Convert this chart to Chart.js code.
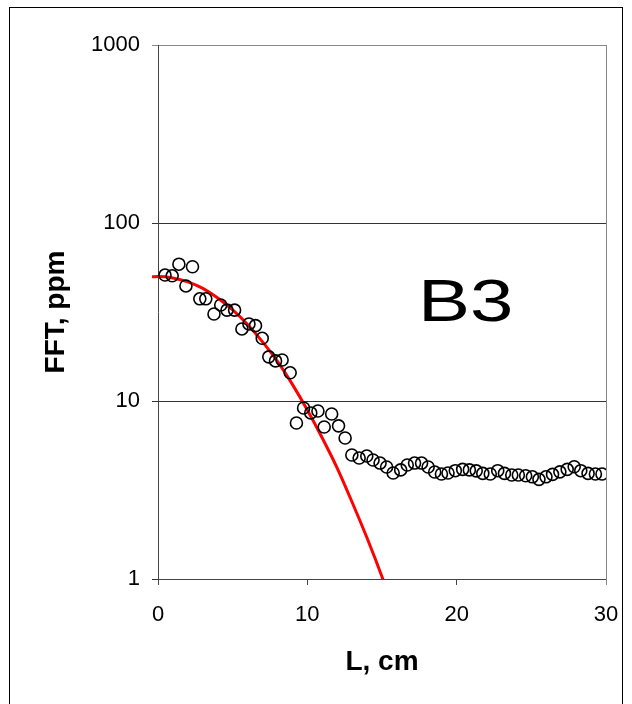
<!DOCTYPE html>
<html>
<head>
<meta charset="utf-8">
<script src="https://cdn.jsdelivr.net/npm/chart.js@4/dist/chart.umd.min.js"></script>
<style>
  body { margin: 0; background: #fff; overflow: hidden; }
  #frame { position: absolute; left: 9px; top: 7px; width: 612px; height: 720px; border: 1px solid #000; }
  #c { position: absolute; left: 0; top: 0; }
</style>
</head>
<body>
<div id="frame"></div>
<canvas id="c" width="632" height="704"></canvas>
<script>
// measured points, L in cm / FFT in ppm
var lenCm = [0.47, 0.95, 1.40, 1.87, 2.31, 2.80, 3.20, 3.75, 4.20, 4.62, 5.13, 5.62, 6.09, 6.53, 6.98, 7.42,
    7.87, 8.31, 8.85, 9.27, 9.75, 10.23, 10.71, 11.13, 11.63, 12.09, 12.53, 12.98, 13.47, 13.98, 14.40, 14.87,
    15.31, 15.75, 16.25, 16.69, 17.18, 17.65, 18.09, 18.53, 18.98, 19.42, 19.91, 20.40, 20.85, 21.31, 21.75,
    22.25, 22.75, 23.20, 23.69, 24.13, 24.62, 25.07, 25.51, 25.98, 26.42, 26.91, 27.40, 27.87, 28.31, 28.80,
    29.29, 29.73];
var fftPpm = [51, 50.5, 58.7, 44.3, 56.8, 37.5, 37.5, 30.8, 34.6, 32.4, 32.4, 25.4, 27.1, 26.5, 22.5, 17.7,
    16.8, 17.0, 14.4, 7.52, 9.14, 8.57, 8.79, 7.14, 8.45, 7.25, 6.2, 4.97, 4.78, 4.91, 4.66, 4.48,
    4.26, 3.94, 4.10, 4.37, 4.48, 4.48, 4.26, 3.99, 3.89, 3.94, 4.06, 4.13, 4.10, 4.05, 3.92,
    3.89, 4.06, 3.92, 3.84, 3.84, 3.80, 3.75, 3.63, 3.75, 3.87, 4.00, 4.13, 4.27, 4.06, 3.92,
    3.89, 3.89];

// red fit curve
var fitX = [-0.4, 0, 1, 2, 3, 4, 5, 6, 7, 8, 9, 10, 11, 12, 13, 14, 15, 16];
var fitY = [49.9, 50, 49.1, 46.7, 42.9, 37.9, 32.5, 26.9, 21.5, 16.7, 12.4, 8.9, 6.2, 4.2, 2.7, 1.7, 1.03, 0.6];

var yTicks = [1, 10, 100, 1000];
var xTicks = [0, 10, 20, 30];

function pairs(xs, ys) {
    return xs.map(function (x, i) { return {x: x, y: ys[i]}; });
}

// gray right frame of the plot + the "B3" label
var extras = {
    id: 'extras',
    afterDatasetsDraw: function (chart) {
        var ctx = chart.ctx, a = chart.chartArea;
        ctx.save();
        ctx.strokeStyle = '#888';
        ctx.lineWidth = 1;
        ctx.beginPath();
        ctx.moveTo(a.right + 0.5, a.top);
        ctx.lineTo(a.right + 0.5, a.bottom + 6);
        ctx.stroke();
        ctx.fillStyle = '#000';
        ctx.font = '60px Arial, "Liberation Sans"';
        ctx.textAlign = 'center';
        ctx.textBaseline = 'middle';
        ctx.translate(chart.scales.x.getPixelForValue(20.6), chart.scales.y.getPixelForValue(35));
        ctx.scale(1.3, 1);
        ctx.fillText('B3', 0, 0);
        ctx.restore();
    }
};

var ctx = document.getElementById('c').getContext('2d');
var fftChart = new Chart(ctx, {
    type: 'scatter',
    data: {
        datasets: [{
            data: pairs(lenCm, fftPpm),
            pointRadius: 6,
            pointBorderWidth: 1.6,
            borderColor: '#000',
            backgroundColor: 'rgba(0,0,0,0)',
            order: 1
        }, {
            data: pairs(fitX, fitY),
            showLine: true,
            pointRadius: 0,
            borderColor: '#ff0000',
            borderWidth: 3,
            cubicInterpolationMode: 'monotone',
            clip: {left: 6, top: 0, right: 0, bottom: 0},
            order: 2
        }]
    },
    options: {
        responsive: false,
        animation: false,
        layout: { padding: { left: 0, top: 45, right: 26, bottom: 0 } },
        plugins: {
            legend: { display: false },
            tooltip: { enabled: false }
        },
        scales: {
            x: {
                type: 'linear',
                min: 0,
                max: 30,
                afterFit: function (s) { s.height = 125; s.paddingLeft = 0; s.paddingRight = 0; },
                afterBuildTicks: function (s) { s.ticks = xTicks.map(function (v) { return {value: v}; }); },
                grid: { drawOnChartArea: false, tickLength: 6, color: '#444' },
                border: { color: '#444', width: 1 },
                ticks: { color: '#000', padding: 17, font: { family: 'Arial, "Liberation Sans"', size: 22 } },
                title: {
                    display: true,
                    text: 'L, cm',
                    color: '#000',
                    font: { family: 'Arial, "Liberation Sans"', size: 28, weight: 'bold', lineHeight: 1 },
                    padding: { top: 0, bottom: 28 }
                }
            },
            y: {
                type: 'logarithmic',
                min: 1,
                max: 1000,
                afterFit: function (s) { s.width = 158; s.paddingTop = 0; s.paddingBottom = 0; },
                afterBuildTicks: function (s) { s.ticks = yTicks.map(function (v) { return {value: v}; }); },
                grid: {
                    tickLength: 6,
                    color: function (c) { return c.tick && c.tick.value === 1000 ? '#888' : '#333'; }
                },
                border: { color: '#444', width: 1 },
                ticks: {
                    color: '#000',
                    padding: 12,
                    font: { family: 'Arial, "Liberation Sans"', size: 22 },
                    callback: function (v) { return String(v); }
                },
                title: {
                    display: true,
                    text: 'FFT, ppm',
                    color: '#000',
                    font: { family: 'Arial, "Liberation Sans"', size: 28, weight: 'bold', lineHeight: 1 },
                    padding: { top: 42, bottom: 0 }
                }
            }
        }
    },
    plugins: [extras]
});
</script>
</body>
</html>
